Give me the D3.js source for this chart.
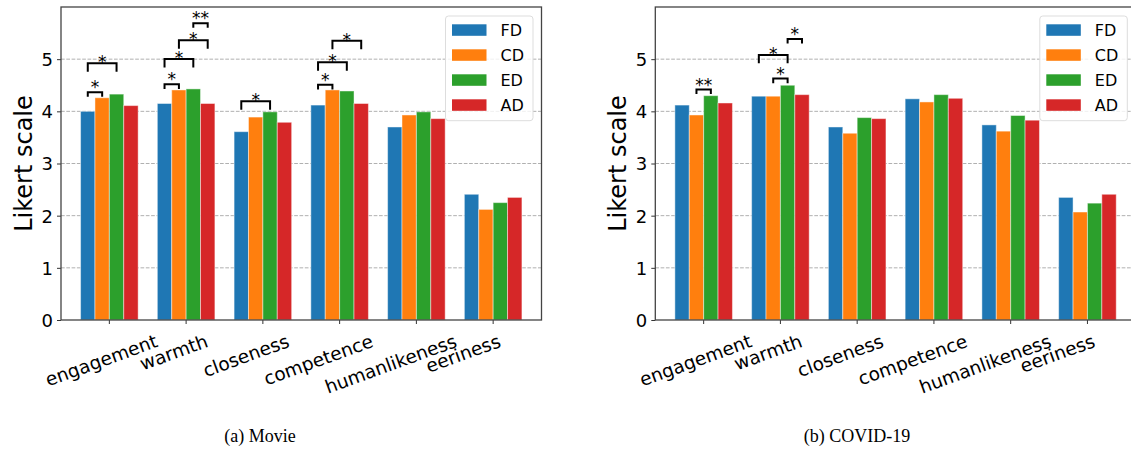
<!DOCTYPE html>
<html>
  <head>
    <meta charset="utf-8">
    <script src="https://unpkg.com/d3@7/dist/d3.min.js"></script>
    <style>
      body {
        margin: 0;
        background: #ffffff;
      }

      svg text {
        font-family: "DejaVu Sans", sans-serif;
        fill: #000000;
      }

      .grid line {
        stroke: #b0b0b0;
        stroke-width: 1px;
        stroke-dasharray: 3.7 1.6;
      }

      .bar {
        stroke: #ffffff;
        stroke-opacity: 0.45;
        stroke-width: 1px;
      }

      .bracket {
        fill: none;
        stroke: #000000;
        stroke-width: 2px;
      }

      svg text.caption {
        font-family: "Liberation Serif", serif;
        font-size: 18px;
        text-anchor: middle;
      }
    </style>
  </head>
  <body>
    <script>
      const categories = ['engagement', 'warmth', 'closeness', 'competence', 'humanlikeness', 'eeriness'];
      const series = ['FD', 'CD', 'ED', 'AD'];
      const colors = ['#1f77b4', '#ff7f0e', '#2ca02c', '#d62728'];
      const yTicks = [0, 1, 2, 3, 4, 5];

      // (a) Movie
      const movieFD = [4.00, 4.15, 3.61, 4.12, 3.70, 2.41];
      const movieCD = [4.26, 4.41, 3.89, 4.41, 3.93, 2.12];
      const movieED = [4.33, 4.43, 3.99, 4.39, 3.99, 2.25];
      const movieAD = [4.11, 4.15, 3.79, 4.15, 3.86, 2.35];
      // significance: category, from, to, base level, label
      const movieSig = [
        ['engagement', 'FD', 'CD', 4.28, '*'],
        ['engagement', 'FD', 'ED', 4.76, '*'],
        ['warmth', 'FD', 'CD', 4.43, '*'],
        ['warmth', 'FD', 'ED', 4.84, '*'],
        ['warmth', 'CD', 'AD', 5.20, '*'],
        ['warmth', 'ED', 'AD', 5.60, '**'],
        ['closeness', 'FD', 'ED', 4.03, '*'],
        ['competence', 'FD', 'CD', 4.42, '*'],
        ['competence', 'FD', 'ED', 4.78, '*'],
        ['competence', 'CD', 'AD', 5.19, '*']
      ];

      // (b) COVID-19
      const covidFD = [4.12, 4.29, 3.70, 4.24, 3.74, 2.35];
      const covidCD = [3.93, 4.29, 3.58, 4.18, 3.62, 2.07];
      const covidED = [4.30, 4.50, 3.88, 4.32, 3.92, 2.24];
      const covidAD = [4.16, 4.32, 3.86, 4.25, 3.83, 2.41];
      const covidSig = [
        ['engagement', 'CD', 'ED', 4.33, '**'],
        ['warmth', 'CD', 'ED', 4.54, '*'],
        ['warmth', 'FD', 'ED', 4.92, '*'],
        ['warmth', 'ED', 'AD', 5.30, '*']
      ];

      const width = 1131;
      const height = 451;
      const plotTop = 7;
      const plotBottom = 320;
      const sans = '"DejaVu Sans", sans-serif';

      const panels = [
        {values: [movieFD, movieCD, movieED, movieAD], sig: movieSig,
         caption: '(a) Movie', left: 61, right: 541.5, capX: 260},
        {values: [covidFD, covidCD, covidED, covidAD], sig: covidSig,
         caption: '(b) COVID-19', left: 655.3, right: 1135.8, capX: 857}
      ];

      const svg = d3.select('body')
        .append('svg')
        .attr('width', width)
        .attr('height', height)
        .style('font-family', sans);

      const y = d3.scaleLinear()
        .domain([0, 6])
        .range([plotBottom, plotTop]);

      const drawPanel = p => {
        const g = svg.append('g');

        const x = d3.scaleBand()
          .domain(categories)
          .range([p.left, p.right])
          .paddingInner(0)
          .paddingOuter(0.13);

        const xs = d3.scaleBand()
          .domain(series)
          .range([0, x.bandwidth()])
          .paddingInner(0)
          .paddingOuter(0.667);

        const barCenter = (c, s) => x(c) + xs(s) + xs.bandwidth() / 2;

        // grid
        g.append('g')
          .classed('grid', true)
          .selectAll('line')
          .data(yTicks.filter(t => t > 0))
          .enter()
          .append('line')
          .attr('x1', p.left)
          .attr('x2', p.right)
          .attr('y1', d => y(d))
          .attr('y2', d => y(d));

        // bars
        const rows = [];
        series.forEach((s, si) => {
          categories.forEach((c, ci) => {
            rows.push({c, s, si, v: p.values[si][ci]});
          });
        });

        g.selectAll('.bar')
          .data(rows)
          .enter()
          .append('rect')
          .classed('bar', true)
          .attr('x', d => x(d.c) + xs(d.s))
          .attr('y', d => y(d.v))
          .attr('width', xs.bandwidth())
          .attr('height', d => y(0) - y(d.v))
          .style('fill', d => colors[d.si]);

        // axes
        const yAxis = g.append('g')
          .attr('transform', `translate(${p.left},0)`)
          .call(d3.axisLeft(y)
            .tickValues(yTicks)
            .tickFormat(d3.format('d'))
            .tickSize(4)
            .tickPadding(4));
        yAxis.attr('font-family', null);
        yAxis.select('.domain').remove();
        yAxis.selectAll('text')
          .style('font-family', sans)
          .style('font-size', '18px')
          .attr('dy', '0.36em');
        yAxis.selectAll('line').attr('stroke', '#333');

        const xAxis = g.append('g')
          .attr('transform', `translate(0,${plotBottom})`)
          .call(d3.axisBottom(x).tickSize(4).tickFormat(''));
        xAxis.select('.domain').remove();
        xAxis.selectAll('line').attr('stroke', '#333');

        g.append('rect')
          .attr('x', p.left)
          .attr('y', plotTop)
          .attr('width', p.right - p.left)
          .attr('height', plotBottom - plotTop)
          .style('fill', 'none')
          .style('stroke', '#444')
          .style('stroke-width', 1.3);

        // rotated category labels
        const fs = 18.5;
        const ang = 20 * Math.PI / 180;
        categories.forEach((c, i) => {
          const t = g.append('text')
            .style('font-family', sans)
            .style('font-size', fs + 'px')
            .attr('text-anchor', 'middle')
            .attr('dominant-baseline', 'central')
            .text(c);
          const len = t.node().getComputedTextLength();
          const cx = x(c) + x.bandwidth() / 2 - 8 - 4.4 * i;
          const cy = plotBottom + 12 + (len * Math.sin(ang) + 0.95 * fs * Math.cos(ang)) / 2;
          t.attr('transform', `translate(${cx},${cy}) rotate(-20)`);
        });

        // y label
        g.append('text')
          .attr('transform', `translate(${p.left - 37},${(plotTop + plotBottom) / 2}) rotate(-90)`)
          .attr('text-anchor', 'middle')
          .attr('dominant-baseline', 'central')
          .style('font-family', sans)
          .style('font-size', '24px')
          .text('Likert scale');

        // legend
        const lg = g.append('g')
          .attr('transform', `translate(${p.right - 96},16)`);
        lg.append('rect')
          .attr('width', 87.5)
          .attr('height', 104.7)
          .attr('rx', 3)
          .style('fill', '#ffffff')
          .style('fill-opacity', 0.8)
          .style('stroke', '#dddddd');
        series.forEach((s, i) => {
          lg.append('rect')
            .attr('x', 6.5)
            .attr('y', 8.3 + i * 25)
            .attr('width', 34.5)
            .attr('height', 11.5)
            .style('fill', colors[i]);
          lg.append('text')
            .attr('x', 55)
            .attr('y', 14 + i * 25)
            .attr('dominant-baseline', 'central')
            .style('font-family', sans)
            .style('font-size', '16px')
            .text(s);
        });

        // significance brackets
        p.sig.forEach(([c, a, b, base, label]) => {
          const x1 = barCenter(c, a);
          const x2 = barCenter(c, b);
          const span = series.indexOf(b) - series.indexOf(a);
          const y0 = y(base);
          const y1 = y0 - (0.8 + 3.8 * span);
          g.append('path')
            .classed('bracket', true)
            .attr('d', `M${x1},${y0}L${x1},${y1}L${x2},${y1}L${x2},${y0}`);
          g.append('text')
            .attr('x', (x1 + x2) / 2)
            .attr('y', y0 - 3.6)
            .attr('text-anchor', 'middle')
            .style('font-family', sans)
            .style('font-size', '17px')
            .text(label);
        });

        svg.append('text')
          .classed('caption', true)
          .attr('x', p.capX)
          .attr('y', 442)
          .text(p.caption);
      };

      panels.forEach(drawPanel);
    </script>
  </body>
</html>
